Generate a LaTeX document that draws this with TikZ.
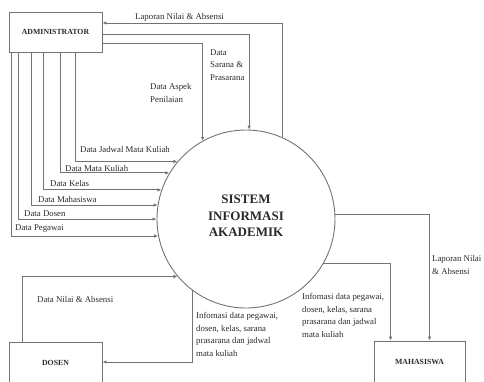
\documentclass[tikz,border=0pt]{standalone}
\usepackage{fontspec}
\setmainfont{Liberation Serif}
\usetikzlibrary{arrows.meta}
\definecolor{ln}{HTML}{737373}
\definecolor{tx}{HTML}{2A2A2A}
\tikzset{
  flow/.style={draw=ln, line width=0.9pt, -{Latex[length=4pt,width=3.5pt]}},
  entity/.style={draw=ln, line width=0.9pt, minimum width=93pt, minimum height=42pt, inner sep=0pt, text=tx, font=\bfseries\fontsize{7.8}{9}\selectfont},
  lbl/.style={anchor=west, inner sep=0pt, text=tx, align=left, font=\fontsize{8.8}{12.8}\selectfont},
  proc/.style={draw=ln, line width=0.9pt, circle, minimum size=178pt, inner sep=0pt, text=tx, align=center, text depth=6pt, font=\bfseries\fontsize{13}{16.5}\selectfont}
}
\begin{document}
\begin{tikzpicture}[x=1pt, y=-1pt]
\useasboundingbox (0,0) rectangle (484,381);
\clip (0,0) rectangle (484,381);
% entities
\node[entity, minimum height=40pt] (admin) at (55.5,32) {ADMINISTRATOR};
\node[entity] (dosen) at (55.5,363) {DOSEN};
\node[entity, minimum width=91pt] (maha) at (419.5,362) {MAHASISWA};
\node[proc] (sys) at (246,219) {SISTEM\\INFORMASI\\AKADEMIK};
% top flows
\draw[flow] (sys.66.8) |- ([yshift=9pt]admin.east);
\draw[flow] ([yshift=-2pt]admin.east) -| (sys.88.1);
\draw[flow] ([yshift=-11pt]admin.east) -| (sys.119.6);
% vertical flows from administrator
\draw[flow] ([xshift=67pt]admin.south west) |- (sys.140.2);
\draw[flow] ([xshift=52pt]admin.south west) |- (sys.149.6);
\draw[flow] ([xshift=35pt]admin.south west) |- (sys.161.7);
\draw[flow] ([xshift=23pt]admin.south west) |- (sys.171.6);
\draw[flow] ([xshift=10pt]admin.south west) |- (sys.180.6);
\draw[flow] ([xshift=3pt]admin.south west) |- (sys.191.7);
% dosen flows
\draw[flow] ([xshift=14pt]dosen.north west) |- (sys.220.7);
\draw[flow] (sys.233.5) |- ([yshift=1pt]dosen.east);
% mahasiswa flows
\draw[flow] (sys.3.2) -| ([xshift=56pt]maha.north west);
\draw[flow] (sys.-30.4) -| ([xshift=17pt]maha.north west);
% labels
\node[lbl] (l1) at (135,17) {Laporan Nilai \& Absensi};
\node[lbl] (l2) at (210,65) {Data\\Sarana \&\\Prasarana};
\node[lbl] (l3) at (150,93) {Data Aspek\\Penilaian};
\node[lbl] (l4) at (80,149) {Data Jadwal Mata Kuliah};
\node[lbl] (l5) at (65,168) {Data Mata Kuliah};
\node[lbl] (l6) at (50,183) {Data Kelas};
\node[lbl] (l7) at (38,199) {Data Mahasiswa};
\node[lbl] (l8) at (24,214) {Data Dosen};
\node[lbl] (l9) at (15,229) {Data Pegawai};
\node[lbl] (l10) at (37,299) {Data Nilai \& Absensi};
\node[lbl] (l11) at (196,334.5) {Infomasi data pegawai,\\dosen, kelas, sarana\\prasarana dan jadwal\\mata kuliah};
\node[lbl] (l12) at (302,315.5) {Infomasi data pegawai,\\dosen, kelas, sarana\\prasarana dan jadwal\\mata kuliah};
\node[lbl] (l13) at (432,265) {Laporan Nilai\\\& Absensi};
\end{tikzpicture}
\end{document}
